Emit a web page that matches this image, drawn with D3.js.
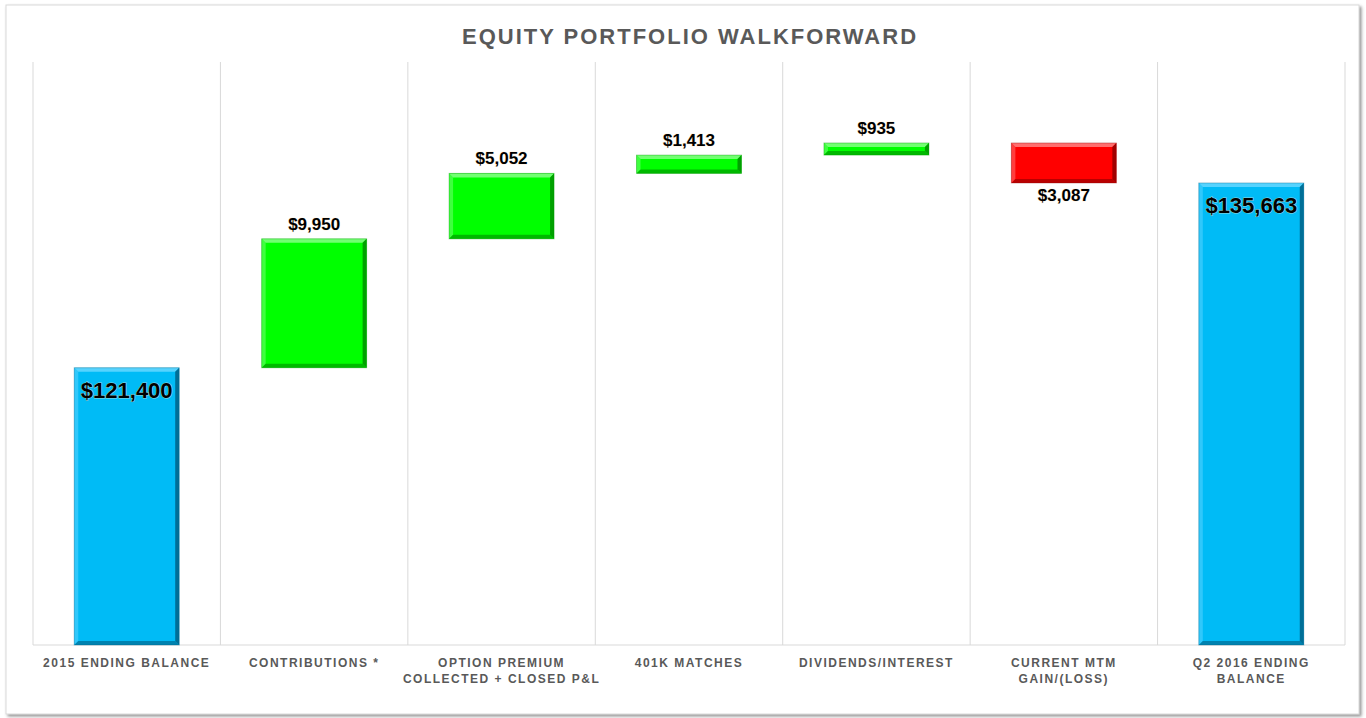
<!DOCTYPE html>
<html>
<head>
<meta charset="utf-8">
<script src="https://cdn.jsdelivr.net/npm/d3@7"></script>
<style>
  body { margin: 0; background: #fff; }
  svg text { font-family: "Liberation Sans", Arial, sans-serif; font-weight: bold; }
</style>
</head>
<body>
<svg id="chart"></svg>
<script>
// Chart data
const categories = [
    ["2015 ENDING BALANCE"],
    ["CONTRIBUTIONS *"],
    ["OPTION PREMIUM", "COLLECTED + CLOSED P&L"],
    ["401K MATCHES"],
    ["DIVIDENDS/INTEREST"],
    ["CURRENT MTM", "GAIN/(LOSS)"],
    ["Q2 2016 ENDING", "BALANCE"]
];
const values = [121400, 9950, 5052, 1413, 935, -3087, 135663];
const kinds = ["total", "delta", "delta", "delta", "delta", "delta", "total"];

const width = 1366;
const height = 718;
const plot = { left: 33, right: 1345, top: 62, bottom: 645 };

const svg = d3.select("#chart")
    .attr("width", width)
    .attr("height", height);

const defs = svg.append("defs");
const shadow = defs.append("filter").attr("id", "frameShadow")
    .attr("x", "-2%").attr("y", "-2%").attr("width", "104%").attr("height", "104%");
shadow.append("feDropShadow").attr("dx", 2).attr("dy", 2).attr("stdDeviation", 1.5)
    .attr("flood-color", "#666").attr("flood-opacity", 0.7);

// Outer frame
svg.append("rect")
    .attr("x", 6).attr("y", 5)
    .attr("width", 1353).attr("height", 709)
    .attr("fill", "#fff")
    .attr("stroke", "#d9d9d9")
    .attr("filter", "url(#frameShadow)");

// Title
svg.append("text")
    .attr("x", (plot.left + plot.right) / 2 + 1)
    .attr("y", 44)
    .attr("text-anchor", "middle")
    .attr("fill", "#595959")
    .style("font-size", "22px")
    .style("letter-spacing", "2px")
    .text("EQUITY PORTFOLIO WALKFORWARD");

// Scales
const keys = categories.map(c => c.join(" "));
const x = d3.scaleBand()
    .domain(keys)
    .range([plot.left, plot.right])
    .padding(0);

const y = d3.scaleLinear()
    .domain([100000, 145000])
    .range([plot.bottom, plot.top]);

// Compute waterfall start/end
let running = 0;
const bars = values.map((v, i) => {
    let start, end;
    if (kinds[i] === "total") {
        start = y.domain()[0];
        end = v;
        running = v;
    } else {
        start = running;
        end = running + v;
        running = end;
    }
    return { key: keys[i], value: v, kind: kinds[i], start, end };
});

// Vertical gridlines on category boundaries
const bounds = keys.map(k => x(k)).concat([plot.right]);
svg.append("g")
    .selectAll("line")
    .data(bounds)
    .enter().append("line")
    .attr("x1", d => d).attr("x2", d => d)
    .attr("y1", plot.top).attr("y2", plot.bottom)
    .attr("stroke", "#d9d9d9")
    .attr("stroke-width", 1);

// Bottom axis line
svg.append("line")
    .attr("x1", plot.left).attr("x2", plot.right)
    .attr("y1", plot.bottom).attr("y2", plot.bottom)
    .attr("stroke", "#d9d9d9");

const colors = {
    total: { fill: "#00bbf6", light: "#5fd6ff", dark: "#005c80" },
    up: { fill: "#00ff00", light: "#7dff7d", dark: "#008a00" },
    down: { fill: "#ff0000", light: "#ff7a7a", dark: "#8a0000" }
};

const barFrac = 0.56;
const bevel = 4;

const g = svg.append("g");
bars.forEach(d => {
    const bw = x.bandwidth() * barFrac;
    const bx = x(d.key) + (x.bandwidth() - bw) / 2;
    const yTop = y(Math.max(d.start, d.end));
    const yBot = y(Math.min(d.start, d.end));
    const bh = yBot - yTop;
    const c = d.kind === "total" ? colors.total : (d.value >= 0 ? colors.up : colors.down);
    const b = Math.min(bevel, bh / 3);

    const bar = g.append("g");
    bar.append("rect")
        .attr("x", bx).attr("y", yTop)
        .attr("width", bw).attr("height", bh)
        .attr("fill", c.fill);
    // bevel: top light
    bar.append("polygon")
        .attr("points", [[bx, yTop], [bx + bw, yTop], [bx + bw - b, yTop + b], [bx + b, yTop + b]].join(" "))
        .attr("fill", c.light).attr("opacity", 0.9);
    // left
    bar.append("polygon")
        .attr("points", [[bx, yTop], [bx + b, yTop + b], [bx + b, yBot - b], [bx, yBot]].join(" "))
        .attr("fill", c.light).attr("opacity", 0.5);
    // right dark
    bar.append("polygon")
        .attr("points", [[bx + bw, yTop], [bx + bw, yBot], [bx + bw - b, yBot - b], [bx + bw - b, yTop + b]].join(" "))
        .attr("fill", c.dark).attr("opacity", 0.8);
    // bottom dark
    bar.append("polygon")
        .attr("points", [[bx, yBot], [bx + bw, yBot], [bx + bw - b, yBot - b], [bx + b, yBot - b]].join(" "))
        .attr("fill", c.dark).attr("opacity", 0.6);
    bar.append("rect")
        .attr("x", bx).attr("y", yTop)
        .attr("width", bw).attr("height", bh)
        .attr("fill", "none")
        .attr("stroke", c.dark).attr("stroke-opacity", 0.35);

    // value label
    const fmt = "$" + d3.format(",")(Math.abs(d.value));
    const label = g.append("text")
        .attr("x", bx + bw / 2)
        .attr("text-anchor", "middle")
        .attr("fill", "#000")
        .style("paint-order", "stroke")
        .style("stroke", "#ffe9c8")
        .style("stroke-opacity", 0.6)
        .style("stroke-width", "1px")
        .text(fmt);
    if (d.kind === "total") {
        label.attr("y", yTop + 30).style("font-size", "22px");
    } else if (d.value >= 0) {
        label.attr("y", yTop - 9).style("font-size", "17px");
    } else {
        label.attr("y", yBot + 18).style("font-size", "17px");
    }
});

// Category labels
const labels = svg.append("g");
categories.forEach((lines, i) => {
    const t = labels.append("text")
        .attr("x", x(keys[i]) + x.bandwidth() / 2)
        .attr("y", 667)
        .attr("text-anchor", "middle")
        .attr("fill", "#595959")
        .style("font-size", "12px")
        .style("letter-spacing", "1.5px");
    lines.forEach((ln, j) => {
        t.append("tspan")
            .attr("x", x(keys[i]) + x.bandwidth() / 2)
            .attr("dy", j === 0 ? 0 : 16)
            .text(ln);
    });
});
</script>
</body>
</html>
